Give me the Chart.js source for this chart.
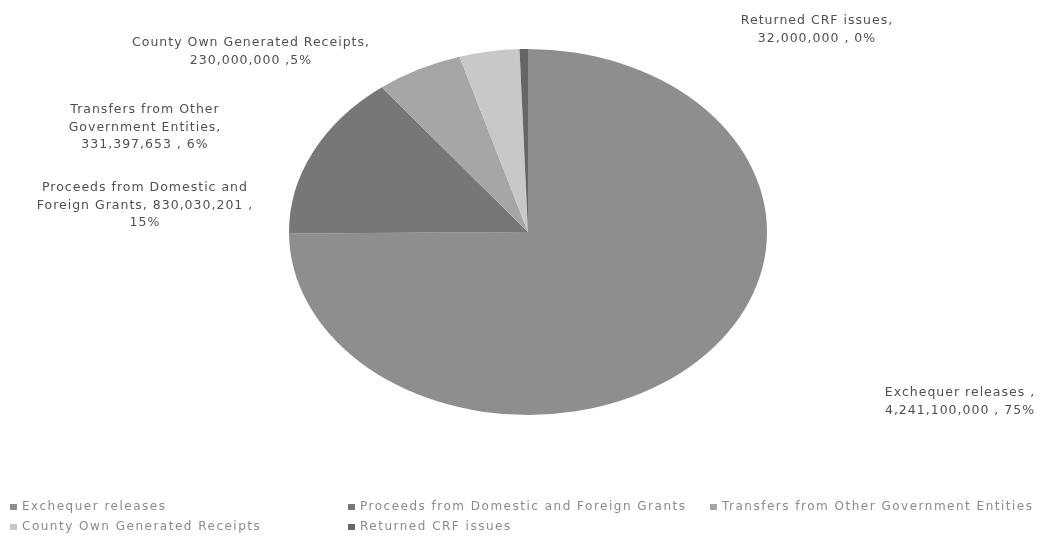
<!DOCTYPE html>
<html>
<head>
<meta charset="utf-8">
<script src="https://cdn.jsdelivr.net/npm/chart.js@4"></script>
<style>
  html, body { margin: 0; padding: 0; background: #fff; }
  #wrap { width: 1040px; height: 536px; position: relative; }
</style>
</head>
<body>
<div id="wrap"><canvas id="graph"></canvas></div>
<script>
// revenue sources (KES)
const sources = [
  "Exchequer releases",
  "Proceeds from Domestic and Foreign Grants",
  "Transfers from Other Government Entities",
  "County Own Generated Receipts",
  "Returned CRF issues"
];
const amounts = [4241100000, 830030201, 331397653, 230000000, 32000000];
const shades = ["#8e8e8e", "#777777", "#a6a6a6", "#c8c8c8", "#666666"];

// data label text as printed on the chart
const labelLines = [
  ["Exchequer releases ,", "4,241,100,000 , 75%"],
  ["Proceeds from Domestic and", "Foreign Grants, 830,030,201 ,", "15%"],
  ["Transfers from Other", "Government Entities,", "331,397,653 , 6%"],
  ["County Own Generated Receipts,", "230,000,000 ,5%"],
  ["Returned CRF issues,", "32,000,000 , 0%"]
];

// where each label block sits (centre x, first line y)
const labelSpots = [[960, 393], [145, 188], [145, 110], [251, 43], [817, 21]];
// legend grid (marker x, text baseline y)
const legendSpots = [[10, 507], [348, 507], [710, 507], [10, 527], [348, 527]];

const stretchX = 239 / 183;

const ellipse = {
  id: "ellipse",
  beforeDatasetsDraw(chart) {
    const arc = chart.getDatasetMeta(0).data[0];
    const c = chart.ctx;
    c.save();
    c.translate(arc.x, arc.y);
    c.scale(stretchX, 1);
    c.translate(-arc.x, -arc.y);
  },
  afterDatasetsDraw(chart) {
    chart.ctx.restore();
  }
};

const texts = {
  id: "texts",
  afterDraw(chart) {
    const c = chart.ctx;
    c.save();
    c.font = "12.5px 'DejaVu Sans'";
    c.letterSpacing = "1px";
    c.fillStyle = "#505050";
    c.textAlign = "center";
    c.textBaseline = "middle";
    labelLines.forEach((lines, i) => {
      const [x, y] = labelSpots[i];
      lines.forEach((t, j) => c.fillText(t, x, y + j * 17.5));
    });

    c.font = "12px 'DejaVu Sans'";
    c.letterSpacing = "1.5px";
    c.textAlign = "left";
    sources.forEach((s, i) => {
      const [x, y] = legendSpots[i];
      c.fillStyle = shades[i];
      c.fillRect(x, y - 3, 7, 6);
      c.fillStyle = "#8a8a8a";
      c.fillText(s, x + 12, y);
    });
    c.restore();
  }
};

new Chart(document.querySelector("#graph"), {
  type: "pie",
  data: {
    labels: sources,
    datasets: [{
      data: amounts,
      backgroundColor: shades,
      borderWidth: 0
    }]
  },
  options: {
    responsive: true,
    maintainAspectRatio: false,
    animation: false,
    layout: { padding: { left: 345, right: 329, top: 49, bottom: 121 } },
    plugins: {
      legend: { display: false },
      tooltip: { enabled: false }
    }
  },
  plugins: [ellipse, texts]
});
</script>
</body>
</html>
